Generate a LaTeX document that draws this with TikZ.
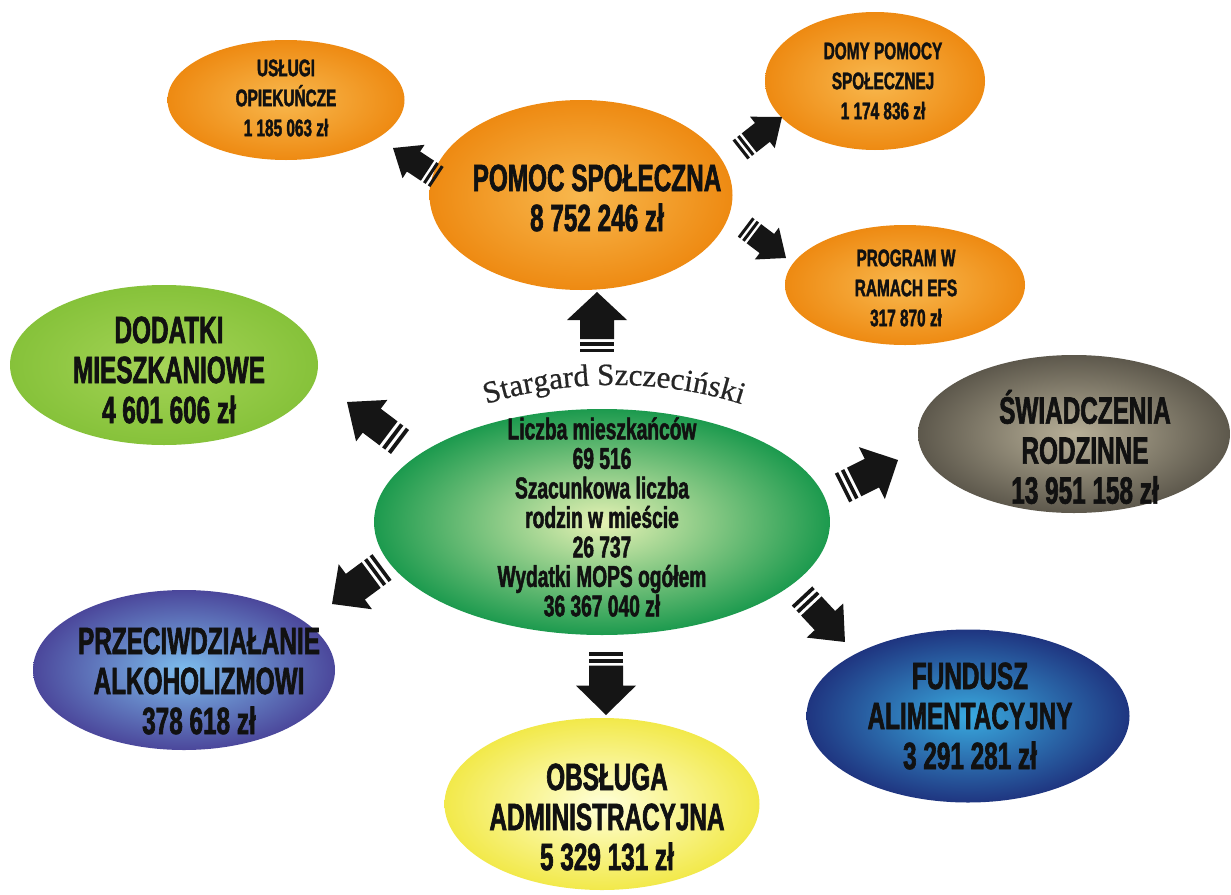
\documentclass[tikz,border=0pt]{standalone}
\usepackage{fontspec}
\usetikzlibrary{shapes.geometric,decorations.text,calc}
\newfontfamily\imp{Liberation Sans}[FakeStretch=0.64, BoldFeatures={FakeBold=1.6}]
\newfontfamily\arcserif{Liberation Serif}[FakeBold=0.6]
\definecolor{orIn}{HTML}{F8B84E}
\definecolor{orOut}{HTML}{EE8A12}
\definecolor{grIn}{HTML}{E6F2B4}
\definecolor{grOut}{HTML}{1C9A4E}
\definecolor{limeIn}{HTML}{A5D457}
\definecolor{limeOut}{HTML}{86C23A}
\definecolor{grayIn}{HTML}{B8B098}
\definecolor{grayOut}{HTML}{5D584C}
\definecolor{violIn}{HTML}{7DBDED}
\definecolor{violOut}{HTML}{4B479B}
\definecolor{navyIn}{HTML}{39AADF}
\definecolor{navyOut}{HTML}{1F3580}
\definecolor{yelIn}{HTML}{FFFFD8}
\definecolor{yelOut}{HTML}{F2E94A}
\definecolor{arrowcol}{HTML}{151515}
\definecolor{txtcol}{HTML}{111111}
\tikzset{
  ell/.style={ellipse, inner sep=0pt, shading=radial},
  bigtxt/.style={font=\imp\bfseries\fontsize{38}{40}\selectfont, align=center, text=txtcol, inner sep=0pt},
  smalltxt/.style={font=\imp\bfseries\fontsize{24}{30}\selectfont, align=center, text=txtcol, inner sep=0pt},
  midtxt/.style={font=\imp\bfseries\fontsize{30}{29.5}\selectfont, align=center, text=txtcol, inner sep=0pt},
}
\newcommand\blockarrow[4]{%
  \pgfmathanglebetweenpoints{\pgfpointanchor{#3}{center}}{\pgfpointanchor{#4}{center}}%
  \let\baang\pgfmathresult
  \pgfpointdiff{\pgfpointanchor{#3}{center}}{\pgfpointanchor{#4}{center}}%
  \pgfgetlastxy{\badx}{\bady}%
  \pgfmathsetmacro\balen{veclen(\badx,\bady)}%
  \begin{scope}[shift={(#3)}, rotate=\baang, xscale=\balen/60]
    \fill[arrowcol] (0,-#2) rectangle (3.5,#2);
    \fill[arrowcol] (6.5,-#2) rectangle (10,#2);
    \fill[arrowcol] (13,-#2) -- (32,-#2) -- (32,-#1) -- (60,0) -- (32,#1) -- (32,#2) -- (13,#2) -- cycle;
  \end{scope}}
\begin{document}
\begin{tikzpicture}[x=1pt,y=-1pt]
\useasboundingbox (0,0) rectangle (1231,894);
\fill[white] (0,0) rectangle (1231,894);
% ellipses
\node[ell, inner color=orIn, outer color=orOut, minimum width=237pt, minimum height=120pt] (usl) at (286,100) {};
\node[ell, inner color=orIn, outer color=orOut, minimum width=303pt, minimum height=190pt] (pom) at (581,195) {};
\node[ell, inner color=orIn, outer color=orOut, minimum width=220pt, minimum height=138pt] (dom) at (875,81) {};
\node[ell, inner color=orIn, outer color=orOut, minimum width=240pt, minimum height=120pt] (efs) at (905,285) {};
\node[ell, inner color=limeIn, outer color=limeOut, minimum width=308pt, minimum height=160pt] (dod) at (164,365) {};
\node[ell, inner color=grIn, outer color=grOut, minimum width=456pt, minimum height=226pt] (cen) at (602,522) {};
\node[ell, inner color=grayIn, outer color=grayOut, minimum width=312pt, minimum height=158pt] (swi) at (1074,434) {};
\node[ell, inner color=violIn, outer color=violOut, minimum width=302pt, minimum height=160pt] (alk) at (184,670) {};
\node[ell, inner color=navyIn, outer color=navyOut, minimum width=323pt, minimum height=173pt] (fun) at (968,716) {};
\node[ell, inner color=yelIn, outer color=yelOut, minimum width=315pt, minimum height=172pt] (obs) at (602,804) {};
% texts
\node[smalltxt] (uslT) at ([shift={(0,-2)}]usl.center) {USŁUGI\\OPIEKUŃCZE\\1 185 063 zł};
\node[bigtxt] (pomT) at ([shift={(16,3)}]pom.center) {POMOC SPOŁECZNA\\8 752 246 zł};
\node[smalltxt] (domT) at ([shift={(8,0)}]dom.center) {DOMY POMOCY\\SPOŁECZNEJ\\1 174 836 zł};
\node[smalltxt] (efsT) at ([shift={(1,3)}]efs.center) {PROGRAM W\\RAMACH EFS\\317 870 zł};
\node[bigtxt] (dodT) at ([shift={(5,5)}]dod.center) {DODATKI\\MIESZKANIOWE\\4 601 606 zł};
\node[midtxt] (cenT) at ([shift={(0,-5)}]cen.center) {Liczba mieszkańców\\69 516\\Szacunkowa liczba\\rodzin w mieście\\26 737\\Wydatki MOPS ogółem\\36 367 040 zł};
\node[bigtxt] (swiT) at ([shift={(11,13)}]swi.center) {ŚWIADCZENIA\\RODZINNE\\13 951 158 zł};
\node[bigtxt] (alkT) at ([shift={(15,11)}]alk.center) {PRZECIWDZIAŁANIE\\ALKOHOLIZMOWI\\378 618 zł};
\node[bigtxt] (funT) at ([shift={(2,0)}]fun.center) {FUNDUSZ\\ALIMENTACYJNY\\3 291 281 zł};
\node[bigtxt] (obsT) at ([shift={(5,13)}]obs.center) {OBSŁUGA\\ADMINISTRACYJNA\\5 329 131 zł};
% arc title
\coordinate (arcc) at (614,522);
\begin{scope}[y=1pt]
\path[decorate, decoration={text along path, text align=center,
  text={|\arcserif\fontsize{31}{31}\selectfont\color{black!85}|Stargard Szczeciński}}]
  ([shift={(150:250 and 137)}]arcc) arc[start angle=150, end angle=30, x radius=250, y radius=137];
\end{scope}
% arrow end points
\coordinate (aUpT) at (597,352);  \coordinate (aUpH) at (597,292);
\coordinate (aDnT) at (606,652);  \coordinate (aDnH) at (606,715);
\coordinate (aSwT) at (842,488);  \coordinate (aSwH) at (898,460);
\coordinate (aAlT) at (382,567);  \coordinate (aAlH) at (332,604);
\coordinate (aFuT) at (802,596);  \coordinate (aFuH) at (845,642);
\coordinate (aDoT) at (400,442);  \coordinate (aDoH) at (347,402);
\coordinate (aUsT) at (437,177);  \coordinate (aUsH) at (393,148);
\coordinate (aDmT) at (740,150);  \coordinate (aDmH) at (782,117);
\coordinate (aEfT) at (745,227);  \coordinate (aEfH) at (786,258);
\blockarrow{30}{17}{aUpT}{aUpH}
\blockarrow{30}{17}{aDnT}{aDnH}
\blockarrow{29}{16}{aSwT}{aSwH}
\blockarrow{28}{16}{aAlT}{aAlH}
\blockarrow{25}{14}{aFuT}{aFuH}
\blockarrow{26}{15}{aDoT}{aDoH}
\blockarrow{20}{12}{aUsT}{aUsH}
\blockarrow{20}{12}{aDmT}{aDmH}
\blockarrow{20}{12}{aEfT}{aEfH}
\end{tikzpicture}
\end{document}
